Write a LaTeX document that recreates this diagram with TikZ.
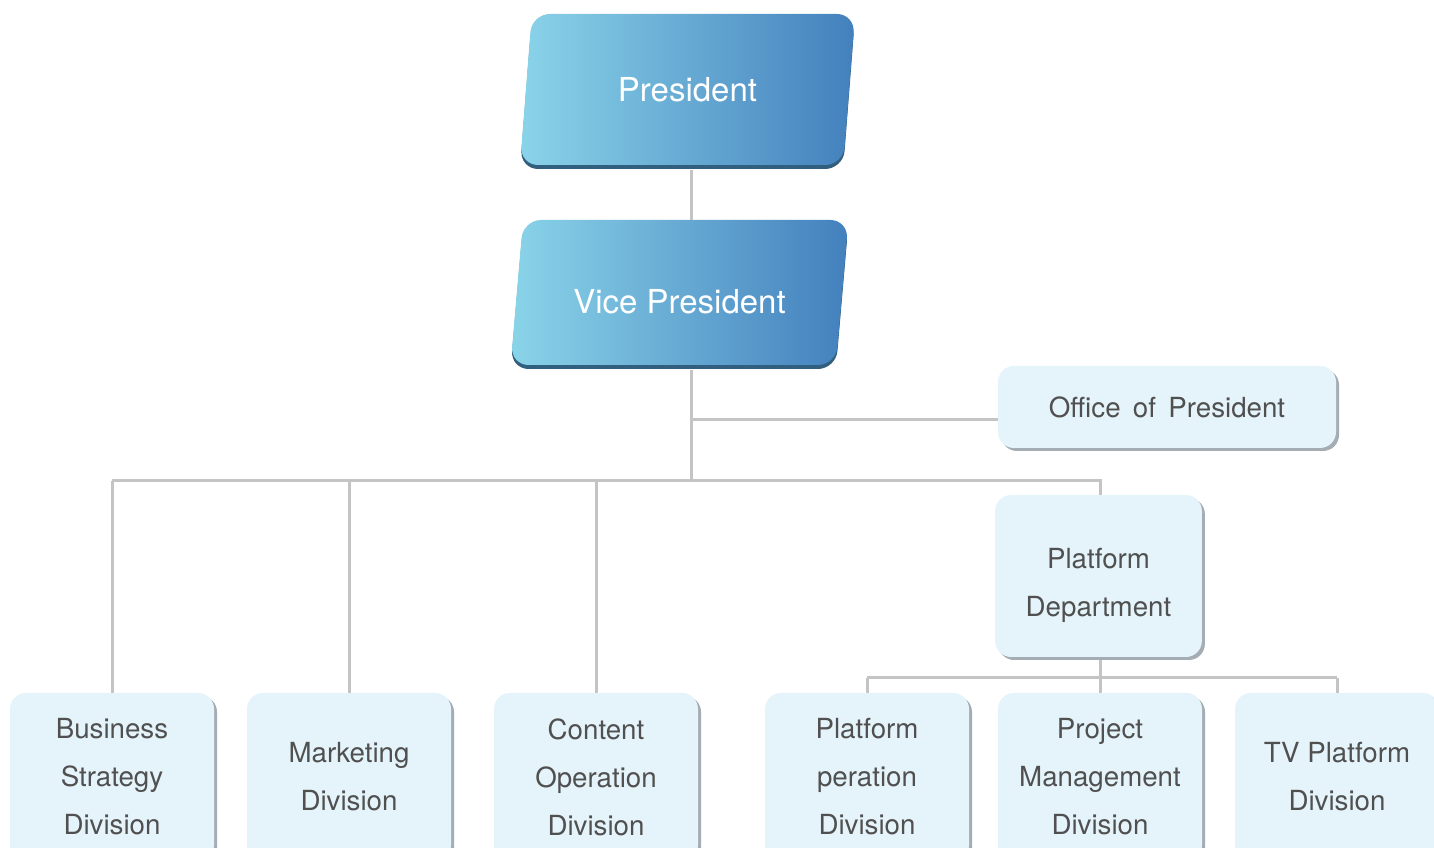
\documentclass[tikz,border=0pt]{standalone}
\usepackage{fontspec}
\setmainfont{TeX Gyre Heros}
\usetikzlibrary{shapes.geometric,shadows}
\definecolor{topleft}{HTML}{8AD4E9}
\definecolor{topright}{HTML}{4380BD}
\definecolor{topshade}{HTML}{335F7E}
\definecolor{unitfill}{HTML}{E5F4FA}
\definecolor{unitshade}{HTML}{A3ADB3}
\definecolor{unittext}{HTML}{505050}
\definecolor{linkgray}{HTML}{C4C4C4}

\begin{document}
\begin{tikzpicture}[x=1pt,y=1pt,
                    topbox/.style={trapezium, trapezium stretches=true, rounded corners=18pt,
                                   left color=topleft, right color=topright, text=white,
                                   font=\fontsize{33}{38}\selectfont,
                                   drop shadow={shadow xshift=0pt, shadow yshift=-4pt, fill=topshade, opacity=1}},
                    unitbox/.style={rectangle, rounded corners=16pt, fill=unitfill, text=unittext,
                                    align=center, font=\fontsize{27.7}{48}\selectfont,
                                    minimum width=204, minimum height=168,
                                    drop shadow={shadow xshift=3pt, shadow yshift=-3pt, fill=unitshade, opacity=1}},
                    link/.style={draw=linkgray, line width=3pt}]
                    \clip (0,0) rectangle (1434,848);
                    \fill[white] (0,0) rectangle (1434,848);
                    % top of the chart
                    \node[topbox, trapezium left angle=80, trapezium right angle=100,
                          minimum width=335, minimum height=151] (pres) at (687.5,758.5) {President};
                    \node[topbox, trapezium left angle=80, trapezium right angle=100,
                          text height=43pt, text depth=0pt,
                          minimum width=339, minimum height=145] (vp) at (679.5,555.5) {Vice President};
                    \node[unitbox, minimum width=338, minimum height=82] (office) at (1167,441) {Office\ \,of\ \,President};
                    \node[unitbox, minimum width=203, minimum height=162] (platdept) at (1098.5,272)
                        {\raisebox{-16pt}[0pt][0pt]{\parbox{200pt}{\centering Platform\\Department}}};
                    % divisions
                    \node[unitbox] (bsd) at (112,71) {Business\\Strategy\\Division};
                    \node[unitbox] (mkt) at (349,71) {Marketing\\Division};
                    \node[unitbox] (cod) at (596,71) {Content\\Operation\\Division};
                    \node[unitbox] (pod) at (867,71) {Platform\\peration\\Division};
                    \node[unitbox] (pmd) at (1100,71) {Project\\Management\\Division};
                    \node[unitbox] (tvp) at (1337,71) {TV Platform\\Division};
                    % connectors
                    \coordinate (trunk) at (691,367);
                    \coordinate (officejoin) at (691,428);
                    \coordinate (subbar) at (1100,170);
                    \draw[link] ([yshift=-5pt]pres.south -| trunk) -- (vp.north -| trunk);
                    \draw[link] ([yshift=-5pt]vp.south -| trunk) -- (trunk);
                    \draw[link] (officejoin) -- (office.west |- officejoin);
                    \draw[link] (bsd.north |- trunk) -- (pmd.north |- trunk) -- (platdept.north -| pmd);
                    \foreach \unit in {bsd,mkt,cod}
                        \draw[link] (\unit.north |- trunk) -- (\unit.north);
                    \draw[link] ([yshift=-3pt]platdept.south -| pmd) -- (pmd.north |- subbar);
                    \draw[link] (pod.north |- subbar) -- (tvp.north |- subbar);
                    \foreach \unit in {pod,pmd,tvp}
                        \draw[link] (\unit.north |- subbar) -- (\unit.north);
                \end{tikzpicture}
\end{document}
